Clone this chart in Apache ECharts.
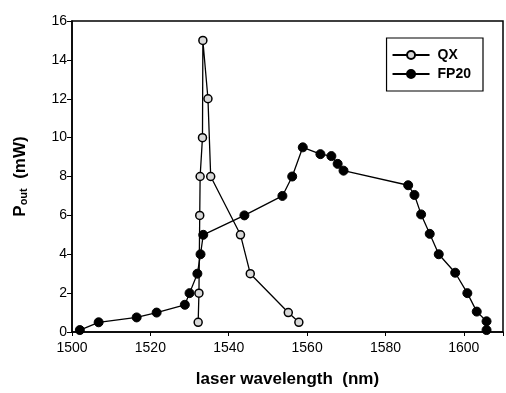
<!DOCTYPE html>
<html><head><meta charset="utf-8">
<script src="https://cdn.jsdelivr.net/npm/echarts@6/dist/echarts.min.js"></script>
<style>html,body{margin:0;padding:0;background:#fff}#c{width:506px;height:393px}</style>
</head><body><div id="c"></div>
<script>
var qxX = [1532.2, 1532.4, 1532.6, 1532.7, 1533.3, 1533.4, 1534.7, 1535.4, 1543.0, 1545.5, 1555.2, 1557.9];
var qxY = [0.5, 2.0, 6.0, 8.0, 10.0, 15.0, 12.0, 8.0, 5.0, 3.0, 1.0, 0.5];
var fpX = [1502.0, 1506.8, 1516.5, 1521.6, 1528.8, 1530.0, 1532.0, 1532.8, 1533.5, 1544.0, 1553.7, 1556.2, 1558.9, 1563.4, 1566.2, 1567.8, 1569.3, 1585.8, 1587.4, 1589.1, 1591.3, 1593.6, 1597.8, 1600.9, 1603.3, 1605.8, 1605.8];
var fpY = [0.1, 0.5, 0.75, 1.0, 1.4, 2.0, 3.0, 4.0, 5.0, 6.0, 7.0, 8.0, 9.5, 9.15, 9.05, 8.65, 8.3, 7.55, 7.05, 6.05, 5.05, 4.0, 3.05, 2.0, 1.05, 0.55, 0.1];
var xTicks = [1500, 1520, 1540, 1560, 1580, 1600];
var yTicks = [0, 2, 4, 6, 8, 10, 12, 14, 16];

function pairs(xs, ys){ return xs.map(function(x,i){return [x, ys[i]];}); }
var font = 'Arial, "Liberation Sans", sans-serif';
var chart = echarts.init(document.getElementById('c'));
chart.setOption({
  animation: false,
  backgroundColor: '#fff',
  grid: {left: 72, top: 21, width: 432, height: 312, show: true, borderColor: '#000', borderWidth: 1.5, containLabel: false},
  legend: {
    data: ['QX', 'FP20'], orient: 'vertical', right: 23, top: 38,
    itemWidth: 37, itemHeight: 10, itemGap: 5,
    padding: [10, 12, 10, 5], borderColor: '#000', borderWidth: 1.2, backgroundColor: '#fff',
    textStyle: {fontFamily: font, fontWeight: 'bold', fontSize: 14, lineHeight: 14, color: '#000', padding: [0,0,0,3]}
  },
  xAxis: {
    type: 'value', min: 1500, max: 1610, interval: 20,
    axisLine: {onZero: false, lineStyle: {color: '#000', width: 1.5}},
    axisTick: {show: true, length: 4, lineStyle: {color: '#000'}},
    splitLine: {show: false},
    axisLabel: {fontFamily: font, fontSize: 14, color: '#000', margin: 9,
      formatter: function(v){ return xTicks.indexOf(v) >= 0 ? String(v) : ''; }},
    name: 'laser wavelength  (nm)', nameLocation: 'middle', nameGap: 39,
    nameTextStyle: {fontFamily: font, fontWeight: 'bold', fontSize: 17, color: '#000'}
  },
  yAxis: {
    type: 'value', min: 0, max: 16, interval: 2,
    axisLine: {onZero: false, lineStyle: {color: '#000', width: 1.5}},
    axisTick: {show: true, length: 5, lineStyle: {color: '#000'}},
    splitLine: {show: false},
    axisLabel: {fontFamily: font, fontSize: 14, color: '#000', margin: 5,
      formatter: function(v){ return yTicks.indexOf(v) >= 0 ? String(v) : ''; }},
    name: '{b|P}{s|out}{b|  (mW)}', nameLocation: 'middle', nameGap: 43, nameRotate: 90,
    nameTextStyle: {rich: {
      b: {fontFamily: font, fontWeight: 'bold', fontSize: 17, color: '#000'},
      s: {fontFamily: font, fontWeight: 'bold', fontSize: 11, color: '#000', verticalAlign: 'bottom', padding: [7,0,0,0]}
    }}
  },
  series: [
    {name: 'QX', type: 'line', data: pairs(qxX, qxY), symbol: 'circle', symbolSize: 8,
      lineStyle: {color: '#000', width: 1.3},
      itemStyle: {color: '#d8d8d8', borderColor: '#000', borderWidth: 1.5}, z: 3},
    {name: 'FP20', type: 'line', data: pairs(fpX, fpY), symbol: 'circle', symbolSize: 9,
      lineStyle: {color: '#000', width: 1.3},
      itemStyle: {color: '#000', borderColor: '#000', borderWidth: 1}, z: 2}
  ]
});
</script></body></html>
